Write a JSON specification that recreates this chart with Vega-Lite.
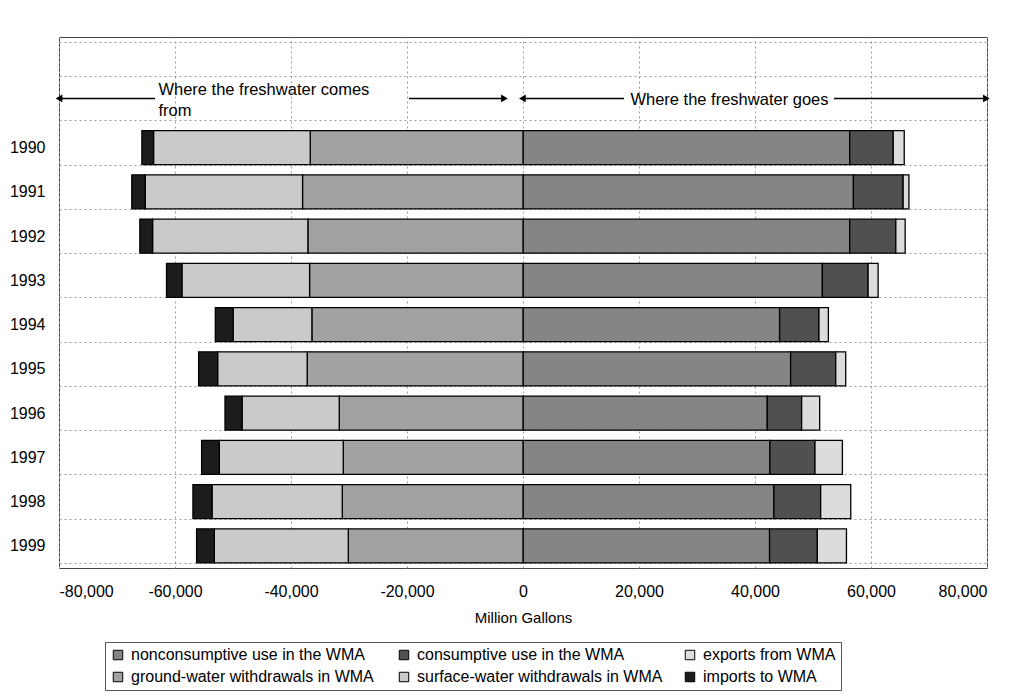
{
  "$schema": "https://vega.github.io/schema/vega-lite/v6.json",
  "width": 928,
  "height": 531,
  "autosize": "none",
  "padding": {"left": 59, "top": 37, "right": 27, "bottom": 128},
  "background": "white",
  "config": {
    "font": "Liberation Sans",
    "view": {"stroke": "#444", "strokeWidth": 1}
  },
  "datasets": {
    "bars": [
      {"row": "1990", "series": "nonconsumptive use in the WMA", "value": 56330, "ord": 1},
      {"row": "1990", "series": "consumptive use in the WMA", "value": 7500, "ord": 2},
      {"row": "1990", "series": "exports from WMA", "value": 1900, "ord": 3},
      {"row": "1990", "series": "ground-water withdrawals in WMA", "value": -36680, "ord": 4},
      {"row": "1990", "series": "surface-water withdrawals in WMA", "value": -27020, "ord": 5},
      {"row": "1990", "series": "imports to WMA", "value": -2010, "ord": 6},
      {"row": "1991", "series": "nonconsumptive use in the WMA", "value": 56970, "ord": 1},
      {"row": "1991", "series": "consumptive use in the WMA", "value": 8570, "ord": 2},
      {"row": "1991", "series": "exports from WMA", "value": 1000, "ord": 3},
      {"row": "1991", "series": "ground-water withdrawals in WMA", "value": -38010, "ord": 4},
      {"row": "1991", "series": "surface-water withdrawals in WMA", "value": -27130, "ord": 5},
      {"row": "1991", "series": "imports to WMA", "value": -2310, "ord": 6},
      {"row": "1992", "series": "nonconsumptive use in the WMA", "value": 56330, "ord": 1},
      {"row": "1992", "series": "consumptive use in the WMA", "value": 7950, "ord": 2},
      {"row": "1992", "series": "exports from WMA", "value": 1610, "ord": 3},
      {"row": "1992", "series": "ground-water withdrawals in WMA", "value": -37090, "ord": 4},
      {"row": "1992", "series": "surface-water withdrawals in WMA", "value": -26780, "ord": 5},
      {"row": "1992", "series": "imports to WMA", "value": -2190, "ord": 6},
      {"row": "1993", "series": "nonconsumptive use in the WMA", "value": 51610, "ord": 1},
      {"row": "1993", "series": "consumptive use in the WMA", "value": 7890, "ord": 2},
      {"row": "1993", "series": "exports from WMA", "value": 1730, "ord": 3},
      {"row": "1993", "series": "ground-water withdrawals in WMA", "value": -36800, "ord": 4},
      {"row": "1993", "series": "surface-water withdrawals in WMA", "value": -22010, "ord": 5},
      {"row": "1993", "series": "imports to WMA", "value": -2650, "ord": 6},
      {"row": "1994", "series": "nonconsumptive use in the WMA", "value": 44240, "ord": 1},
      {"row": "1994", "series": "consumptive use in the WMA", "value": 6790, "ord": 2},
      {"row": "1994", "series": "exports from WMA", "value": 1620, "ord": 3},
      {"row": "1994", "series": "ground-water withdrawals in WMA", "value": -36400, "ord": 4},
      {"row": "1994", "series": "surface-water withdrawals in WMA", "value": -13590, "ord": 5},
      {"row": "1994", "series": "imports to WMA", "value": -3060, "ord": 6},
      {"row": "1995", "series": "nonconsumptive use in the WMA", "value": 46140, "ord": 1},
      {"row": "1995", "series": "consumptive use in the WMA", "value": 7780, "ord": 2},
      {"row": "1995", "series": "exports from WMA", "value": 1720, "ord": 3},
      {"row": "1995", "series": "ground-water withdrawals in WMA", "value": -37210, "ord": 4},
      {"row": "1995", "series": "surface-water withdrawals in WMA", "value": -15440, "ord": 5},
      {"row": "1995", "series": "imports to WMA", "value": -3280, "ord": 6},
      {"row": "1996", "series": "nonconsumptive use in the WMA", "value": 42110, "ord": 1},
      {"row": "1996", "series": "consumptive use in the WMA", "value": 5930, "ord": 2},
      {"row": "1996", "series": "exports from WMA", "value": 3110, "ord": 3},
      {"row": "1996", "series": "ground-water withdrawals in WMA", "value": -31680, "ord": 4},
      {"row": "1996", "series": "surface-water withdrawals in WMA", "value": -16760, "ord": 5},
      {"row": "1996", "series": "imports to WMA", "value": -2940, "ord": 6},
      {"row": "1997", "series": "nonconsumptive use in the WMA", "value": 42570, "ord": 1},
      {"row": "1997", "series": "consumptive use in the WMA", "value": 7770, "ord": 2},
      {"row": "1997", "series": "exports from WMA", "value": 4730, "ord": 3},
      {"row": "1997", "series": "ground-water withdrawals in WMA", "value": -30990, "ord": 4},
      {"row": "1997", "series": "surface-water withdrawals in WMA", "value": -21370, "ord": 5},
      {"row": "1997", "series": "imports to WMA", "value": -3050, "ord": 6},
      {"row": "1998", "series": "nonconsumptive use in the WMA", "value": 43260, "ord": 1},
      {"row": "1998", "series": "consumptive use in the WMA", "value": 8060, "ord": 2},
      {"row": "1998", "series": "exports from WMA", "value": 5190, "ord": 3},
      {"row": "1998", "series": "ground-water withdrawals in WMA", "value": -31160, "ord": 4},
      {"row": "1998", "series": "surface-water withdrawals in WMA", "value": -22460, "ord": 5},
      {"row": "1998", "series": "imports to WMA", "value": -3290, "ord": 6},
      {"row": "1999", "series": "nonconsumptive use in the WMA", "value": 42510, "ord": 1},
      {"row": "1999", "series": "consumptive use in the WMA", "value": 8240, "ord": 2},
      {"row": "1999", "series": "exports from WMA", "value": 5020, "ord": 3},
      {"row": "1999", "series": "ground-water withdrawals in WMA", "value": -30120, "ord": 4},
      {"row": "1999", "series": "surface-water withdrawals in WMA", "value": -23100, "ord": 5},
      {"row": "1999", "series": "imports to WMA", "value": -3060, "ord": 6}
    ],
    "arrows": [
      {"row": "arrows", "x1": -63440, "x2": -80000, "dir": "triangle-left"},
      {"row": "arrows", "x1": -19650, "x2": -3200, "dir": "triangle-right"},
      {"row": "arrows", "x1": 17410, "x2": -100, "dir": "triangle-left"},
      {"row": "arrows", "x1": 53620, "x2": 79900, "dir": "triangle-right"}
    ],
    "noteLeft": [
      {"row": "arrows", "x": -62860, "label": "Where the freshwater comes\nfrom"}
    ],
    "noteRight": [
      {"row": "arrows", "x": 18520, "label": "Where the freshwater goes"}
    ]
  },
  "encoding": {
    "y": {
      "field": "row",
      "type": "nominal",
      "scale": {
        "domain": ["blank", "arrows", "1990", "1991", "1992", "1993", "1994", "1995", "1996", "1997", "1998", "1999"],
        "paddingInner": 0.23,
        "paddingOuter": 0.115
      },
      "axis": {
        "title": null,
        "ticks": false,
        "domain": false,
        "grid": true,
        "tickBand": "extent",
        "gridColor": "#9a9a9a",
        "gridDash": [2, 3],
        "gridWidth": 1,
        "labelExpr": "datum.label == 'blank' || datum.label == 'arrows' ? '' : datum.label",
        "labelFontSize": 16,
        "labelColor": "black",
        "labelPadding": 14
      }
    }
  },
  "layer": [
    {
      "data": {"name": "bars"},
      "mark": {"type": "bar", "stroke": "black", "strokeWidth": 1.3},
      "encoding": {
        "x": {
          "field": "value",
          "type": "quantitative",
          "stack": "zero",
          "scale": {"domain": [-80000, 80000], "nice": false},
          "axis": {
            "values": [-80000, -60000, -40000, -20000, 0, 20000, 40000, 60000, 80000],
            "labelExpr": "(datum.value < 0 ? '-' : '') + format(abs(datum.value), ',.0f')",
            "grid": true,
            "gridColor": "#9a9a9a",
            "gridDash": [2, 3],
            "domain": false,
            "ticks": false,
            "labelPadding": 15,
            "labelFontSize": 16,
            "labelColor": "black",
            "title": "Million Gallons",
            "titleFontSize": 15,
            "titleFontWeight": "normal",
            "titleColor": "black",
            "titlePadding": 11
          }
        },
        "color": {
          "field": "series",
          "type": "nominal",
          "scale": {
            "domain": ["nonconsumptive use in the WMA", "consumptive use in the WMA", "exports from WMA", "ground-water withdrawals in WMA", "surface-water withdrawals in WMA", "imports to WMA"],
            "range": ["#858585", "#505050", "#dcdcdc", "#a2a2a2", "#cacaca", "#1c1c1c"]
          },
          "legend": {
            "orient": "none",
            "legendX": 46,
            "legendY": 605,
            "columns": 3,
            "direction": "horizontal",
            "gridAlign": "all",
            "title": null,
            "labelFont": "Liberation Sans",
            "labelFontSize": 16,
            "labelLimit": 0,
            "labelColor": "black",
            "symbolType": "square",
            "symbolSize": 90,
            "symbolStrokeColor": "black",
            "symbolStrokeWidth": 1,
            "padding": 5,
            "strokeColor": "#555",
            "fillColor": "white",
            "columnPadding": 19,
            "rowPadding": 6,
            "labelOffset": 5
          }
        },
        "order": {"field": "ord", "type": "quantitative"}
      }
    },
    {
      "data": {"name": "arrows"},
      "mark": {"type": "rule", "color": "black", "strokeWidth": 1.5, "yOffset": -5},
      "encoding": {
        "x": {"field": "x1", "type": "quantitative"},
        "x2": {"field": "x2"}
      }
    },
    {
      "data": {"name": "arrows"},
      "mark": {"type": "point", "filled": true, "color": "black", "opacity": 1, "size": 60, "yOffset": -5},
      "encoding": {
        "x": {"field": "x2", "type": "quantitative"},
        "shape": {"field": "dir", "type": "nominal", "scale": {"domain": ["triangle-left", "triangle-right"], "range": ["triangle-left", "triangle-right"]}, "legend": null}
      }
    },
    {
      "data": {"name": "noteLeft"},
      "mark": {"type": "text", "align": "left", "baseline": "alphabetic", "dy": -8, "fontSize": 16.5, "lineBreak": "\n", "lineHeight": 21, "color": "black"},
      "encoding": {
        "x": {"field": "x", "type": "quantitative"},
        "text": {"field": "label"}
      }
    },
    {
      "data": {"name": "noteRight"},
      "mark": {"type": "text", "align": "left", "baseline": "alphabetic", "dy": 2, "fontSize": 16.5, "color": "black"},
      "encoding": {
        "x": {"field": "x", "type": "quantitative"},
        "text": {"field": "label"}
      }
    }
  ]
}
